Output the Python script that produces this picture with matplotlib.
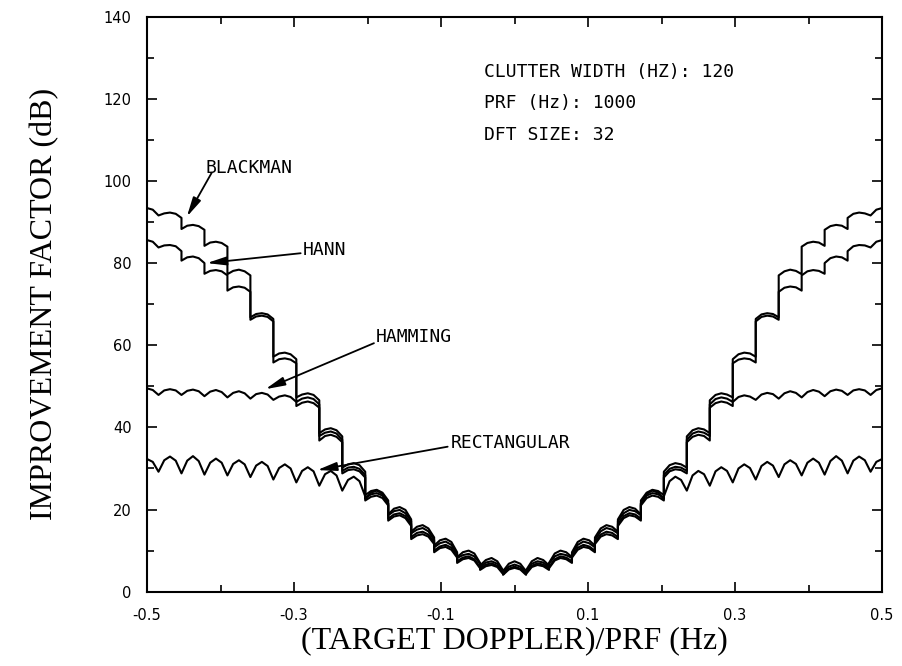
import numpy as np
import matplotlib
matplotlib.use("Agg")
import matplotlib.pyplot as plt

# ---------------- data ----------------
dft_size = 32
bin_index = np.arange(-16, 17)               # DFT filter index, centre = k/32
sub_bin_offsets = [-0.5, -0.25, 0.0, 0.25, 0.5]  # left edge, quarter, centre, quarter, right edge (in bins)

# improvement factor (dB) at the five sub-bin points of each filter bin
blackman = [
    (91.6, 93.0, 93.4, 93.0, 91.6), (91.6, 92.1, 92.3, 92.0, 91.0), (88.3, 89.1, 89.3, 89.0, 88.1),
    (84.2, 85.0, 85.2, 84.9, 84.0), (77.3, 78.1, 78.4, 78.0, 77.0), (66.8, 67.6, 67.8, 67.5, 66.4),
    (57.2, 58.0, 58.2, 57.8, 56.6), (47.3, 48.0, 48.3, 47.9, 46.6), (38.6, 39.5, 39.8, 39.3, 37.8),
    (30.2, 31.0, 31.3, 30.8, 29.2), (23.5, 24.5, 24.8, 24.1, 22.2), (18.6, 19.6, 19.9, 19.1, 17.2),
    (14.2, 15.1, 15.5, 14.7, 12.6), (10.8, 11.8, 12.2, 11.4, 9.2), (8.2, 8.9, 9.2, 8.6, 6.8),
    (6.0, 7.1, 7.4, 6.8, 4.8), (4.6, 6.1, 6.6, 6.1, 4.6), (4.8, 6.8, 7.4, 7.1, 6.0),
    (6.8, 8.6, 9.2, 8.9, 8.2), (9.2, 11.4, 12.2, 11.8, 10.8), (12.6, 14.7, 15.5, 15.1, 14.2),
    (17.2, 19.1, 19.9, 19.6, 18.6), (22.2, 24.1, 24.8, 24.5, 23.5), (29.2, 30.8, 31.3, 31.0, 30.2),
    (37.8, 39.3, 39.8, 39.5, 38.6), (46.6, 47.9, 48.3, 48.0, 47.3), (56.6, 57.8, 58.2, 58.0, 57.2),
    (66.4, 67.5, 67.8, 67.6, 66.8), (77.0, 78.0, 78.4, 78.1, 77.3), (84.0, 84.9, 85.2, 85.0, 84.2),
    (88.1, 89.0, 89.3, 89.1, 88.3), (91.0, 92.0, 92.3, 92.1, 91.6), (91.6, 93.0, 93.4, 93.0, 91.6),
]
hann = [
    (83.8, 85.2, 85.6, 85.2, 83.8), (83.8, 84.3, 84.4, 84.1, 82.9), (80.6, 81.4, 81.6, 81.2, 80.0),
    (77.4, 78.1, 78.3, 78.0, 77.0), (73.3, 74.1, 74.3, 74.0, 73.0), (66.2, 67.0, 67.2, 66.9, 65.8),
    (55.8, 56.6, 56.8, 56.5, 55.6), (46.2, 47.0, 47.3, 46.9, 45.6), (37.9, 38.7, 39.0, 38.5, 37.0),
    (29.4, 30.2, 30.4, 29.9, 28.4), (22.8, 23.7, 24.0, 23.4, 21.5), (17.8, 18.8, 19.1, 18.4, 16.5),
    (13.3, 14.3, 14.6, 13.9, 12.0), (10.0, 11.0, 11.4, 10.7, 8.6), (7.4, 8.3, 8.6, 7.9, 6.0),
    (5.6, 6.6, 6.9, 6.3, 4.5), (4.3, 5.6, 6.1, 5.6, 4.3), (4.5, 6.3, 6.9, 6.6, 5.6),
    (6.0, 7.9, 8.6, 8.3, 7.4), (8.6, 10.7, 11.4, 11.0, 10.0), (12.0, 13.9, 14.6, 14.3, 13.3),
    (16.5, 18.4, 19.1, 18.8, 17.8), (21.5, 23.4, 24.0, 23.7, 22.8), (28.4, 29.9, 30.4, 30.2, 29.4),
    (37.0, 38.5, 39.0, 38.7, 37.9), (45.6, 46.9, 47.3, 47.0, 46.2), (55.6, 56.5, 56.8, 56.6, 55.8),
    (65.8, 66.9, 67.2, 67.0, 66.2), (73.0, 74.0, 74.3, 74.1, 73.3), (77.0, 78.0, 78.3, 78.1, 77.4),
    (80.0, 81.2, 81.6, 81.4, 80.6), (82.9, 84.1, 84.4, 84.3, 83.8), (83.8, 85.2, 85.6, 85.2, 83.8),
]
hamming = [
    (48.0, 49.1, 49.5, 49.1, 47.9), (47.9, 49.0, 49.3, 49.0, 47.9), (47.9, 48.9, 49.2, 48.8, 47.6),
    (47.6, 48.7, 49.1, 48.6, 47.3), (47.3, 48.4, 48.8, 48.3, 47.0), (47.0, 48.1, 48.4, 48.0, 46.7),
    (46.7, 47.5, 47.8, 47.4, 46.2), (45.2, 46.0, 46.3, 45.9, 44.8), (36.8, 37.9, 38.2, 37.7, 36.4),
    (28.8, 29.6, 29.8, 29.3, 27.8), (22.2, 23.1, 23.4, 22.8, 21.0), (17.3, 18.3, 18.6, 17.9, 16.0),
    (12.8, 13.7, 14.0, 13.4, 11.6), (9.6, 10.6, 10.9, 10.2, 8.3), (7.0, 7.9, 8.2, 7.6, 5.7),
    (5.3, 6.2, 6.5, 6.0, 4.3), (4.1, 5.4, 5.8, 5.4, 4.1), (4.3, 6.0, 6.5, 6.2, 5.3),
    (5.7, 7.6, 8.2, 7.9, 7.0), (8.3, 10.2, 10.9, 10.6, 9.6), (11.6, 13.4, 14.0, 13.7, 12.8),
    (16.0, 17.9, 18.6, 18.3, 17.3), (21.0, 22.8, 23.4, 23.1, 22.2), (27.8, 29.3, 29.8, 29.6, 28.8),
    (36.4, 37.7, 38.2, 37.9, 36.8), (44.8, 45.9, 46.3, 46.0, 45.2), (46.2, 47.4, 47.8, 47.5, 46.7),
    (46.7, 48.0, 48.4, 48.1, 47.0), (47.0, 48.3, 48.8, 48.4, 47.3), (47.3, 48.6, 49.1, 48.7, 47.6),
    (47.6, 48.8, 49.2, 48.9, 47.9), (47.9, 49.0, 49.3, 49.0, 47.9), (47.9, 49.1, 49.5, 49.1, 48.0),
]
rectangular = [
    (29.2, 31.6, 32.3, 31.6, 29.2), (29.2, 32.0, 32.9, 31.9, 28.8), (28.8, 31.9, 33.0, 31.8, 28.5),
    (28.5, 31.4, 32.4, 31.4, 28.3), (28.3, 31.1, 32.0, 31.0, 27.9), (27.9, 30.7, 31.6, 30.6, 27.3),
    (27.3, 30.1, 31.0, 30.0, 26.6), (26.6, 29.4, 30.3, 29.3, 25.8), (25.8, 28.6, 29.4, 28.3, 24.6),
    (24.6, 27.2, 28.0, 26.9, 23.2), (22.6, 24.1, 24.6, 23.8, 21.4), (18.8, 20.2, 20.6, 19.9, 17.6),
    (14.6, 15.8, 16.2, 15.4, 13.2), (11.2, 12.5, 12.9, 12.1, 9.6), (8.4, 9.6, 10.0, 9.3, 7.0),
    (6.4, 7.7, 8.2, 7.4, 5.2), (5.0, 6.8, 7.4, 6.8, 5.0), (5.2, 7.4, 8.2, 7.7, 6.4),
    (7.0, 9.3, 10.0, 9.6, 8.4), (9.6, 12.1, 12.9, 12.5, 11.2), (13.2, 15.4, 16.2, 15.8, 14.6),
    (17.6, 19.9, 20.6, 20.2, 18.8), (21.4, 23.8, 24.6, 24.1, 22.6), (23.2, 26.9, 28.0, 27.2, 24.6),
    (24.6, 28.3, 29.4, 28.6, 25.8), (25.8, 29.3, 30.3, 29.4, 26.6), (26.6, 30.0, 31.0, 30.1, 27.3),
    (27.3, 30.6, 31.6, 30.7, 27.9), (27.9, 31.0, 32.0, 31.1, 28.3), (28.3, 31.4, 32.4, 31.4, 28.5),
    (28.5, 31.8, 33.0, 31.9, 28.8), (28.8, 31.9, 32.9, 32.0, 29.2), (29.2, 31.6, 32.3, 31.6, 29.2),
]

x_major = [-0.5, -0.3, -0.1, 0.1, 0.3, 0.5]
x_major_labels = ["-0.5", "-0.3", "-0.1", "0.1", "0.3", "0.5"]
x_minor = [-0.4, -0.2, 0.0, 0.2, 0.4]
y_major = [0, 20, 40, 60, 80, 100, 120, 140]
y_major_labels = ["0", "20", "40", "60", "80", "100", "120", "140"]
y_minor = [10, 30, 50, 70, 90, 110, 130]

info_lines = ["CLUTTER WIDTH (HZ): 120", "PRF (Hz): 1000", "DFT SIZE: 32"]

# ---------------- figure ----------------
fig = plt.figure(figsize=(9.02, 6.66), dpi=100)
fig.patch.set_facecolor("white")
ax = fig.add_axes([0.163, 0.1116, 0.8149, 0.8634])


def curve_xy(values):
    xs, ys = [], []
    for k, vals in zip(bin_index, values):
        for off, v in zip(sub_bin_offsets, vals):
            xs.append((k + off) / dft_size)
            ys.append(v)
    return xs, ys


for series in (blackman, hann, hamming, rectangular):
    xs, ys = curve_xy(series)
    ax.plot(xs, ys, color="black", lw=1.5, solid_joinstyle="round")

ax.set_xlim(-0.5, 0.5)
ax.set_ylim(0, 140)

ax.set_xticks(x_major)
ax.set_xticklabels(x_major_labels)
ax.set_xticks(x_minor, minor=True)
ax.set_yticks(y_major)
ax.set_yticklabels(y_major_labels)
ax.set_yticks(y_minor, minor=True)

ax.tick_params(which="both", direction="in", top=True, right=True, width=1.2, colors="black")
ax.tick_params(which="major", length=7)
ax.tick_params(which="minor", length=5)
ax.tick_params(axis="x", which="major", pad=12, labelsize=10.5)
ax.tick_params(axis="y", which="major", pad=11, labelsize=10.5)
for lab in ax.get_xticklabels() + ax.get_yticklabels():
    lab.set_fontfamily("DejaVu Sans")

for sp in ax.spines.values():
    sp.set_linewidth(1.5)
    sp.set_color("black")

ax.set_xlabel("(TARGET DOPPLER)/PRF (Hz)", fontfamily="Liberation Serif", fontsize=23, labelpad=2)
ax.set_ylabel("IMPROVEMENT FACTOR (dB)", fontfamily="Liberation Serif", fontsize=23, labelpad=32)

mono = dict(fontfamily="DejaVu Sans Mono", fontsize=13, color="black", va="center", ha="left")

for line, yv in zip(info_lines, [126.5, 119.0, 111.2]):
    ax.text(-0.042, yv, line, **mono)

ax.text(-0.421, 103.2, "BLACKMAN", **mono)
ax.text(-0.2885, 83.2, "HANN", **mono)
ax.text(-0.189, 62.0, "HAMMING", **mono)
ax.text(-0.0866, 36.2, "RECTANGULAR", **mono)

arrow = dict(arrowstyle="-|>,head_length=0.9,head_width=0.2", color="black", lw=1.3,
             shrinkA=0, shrinkB=0, mutation_scale=13)
ax.annotate("", xy=(-0.4458, 91.3), xytext=(-0.412, 102.0), arrowprops=arrow)
ax.annotate("", xy=(-0.4186, 80.0), xytext=(-0.291, 82.4), arrowprops=arrow)
ax.annotate("", xy=(-0.339, 49.3), xytext=(-0.1913, 60.5), arrowprops=arrow)
ax.annotate("", xy=(-0.2685, 29.6), xytext=(-0.091, 35.3), arrowprops=arrow)

fig.savefig("out.png", dpi=100, facecolor="white")
